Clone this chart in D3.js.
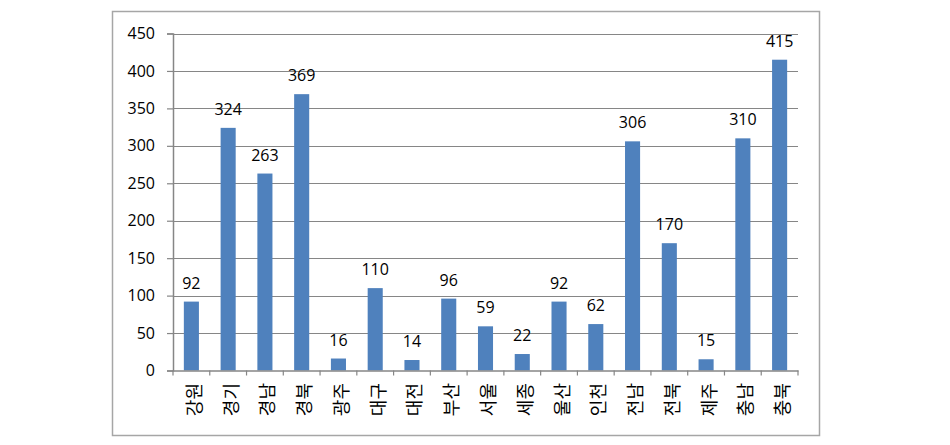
<!DOCTYPE html>
<html><head><meta charset="utf-8">
<script src="https://cdn.jsdelivr.net/npm/d3@7"></script>
<style>body{margin:0;background:#fff}</style>
</head><body>
<svg id="c" width="950" height="445"></svg>
<script>
const categories = ["강원","경기","경남","경북","광주","대구","대전","부산","서울","세종","울산","인천","전남","전북","제주","충남","충북"];
const values = [92,324,263,369,16,110,14,96,59,22,92,62,306,170,15,310,415];
const yTicks = [0,50,100,150,200,250,300,350,400,450];

(function(){
const svg = d3.select("#c");
svg.append("rect").attr("x",112.5).attr("y",11.5).attr("width",707).attr("height",424)
  .attr("fill","#fff").attr("stroke","#a6a6a6").attr("stroke-width",1.5);

const pL=173, pR=798, pT=33.5, pB=370.5;
const x = d3.scaleBand().domain(categories).range([pL,pR]).paddingInner(0.59).paddingOuter(0.295);
const xb = d3.scaleBand().domain(categories).range([pL,pR]);
const y = d3.scaleLinear().domain([0,450]).range([pB,pT]);

// gridlines
svg.append("g").selectAll("line").data(yTicks.filter(d=>d>0)).join("line")
  .attr("x1",pL).attr("x2",pR).attr("y1",d=>Math.round(y(d))+0.5).attr("y2",d=>Math.round(y(d))+0.5)
  .attr("stroke","#868686").attr("stroke-width",1.2);

// bars
svg.append("g").selectAll("rect").data(values).join("rect")
  .attr("x",(d,i)=>x(categories[i])).attr("width",x.bandwidth())
  .attr("y",d=>y(d)).attr("height",d=>pB-y(d)).attr("fill","#4F81BD");

// y axis
const ya = svg.append("g").attr("transform",`translate(${pL},0)`)
  .call(d3.axisLeft(y).tickValues(yTicks).tickSize(6).tickPadding(12));
ya.select(".domain").attr("stroke","#868686").attr("stroke-width",1.5);
ya.selectAll(".tick line").attr("stroke","#868686").attr("stroke-width",1.2);
ya.selectAll("text").attr("font-family","Open Sans, sans-serif").attr("font-size",16).attr("fill","#000");

// x axis
const xa = svg.append("g").attr("transform",`translate(0,${pB})`)
  .call(d3.axisBottom(xb).tickSize(0).tickFormat(""));
xa.select(".domain").attr("stroke","#868686").attr("stroke-width",1.5);
xa.selectAll(".tick").remove();
const bounds = categories.map(c=>xb(c)).concat([pR]);
svg.append("g").selectAll("line").data(bounds).join("line")
  .attr("x1",d=>d).attr("x2",d=>d).attr("y1",pB).attr("y2",pB+5)
  .attr("stroke","#868686").attr("stroke-width",1.2);

// category labels rotated
svg.append("g").selectAll("text").data(categories).join("text")
  .attr("transform",d=>`translate(${xb(d)+xb.bandwidth()/2+9.5},383) rotate(-90)`)
  .attr("text-anchor","end")
  .attr("font-family","Noto Sans CJK KR, sans-serif").attr("font-size",18).attr("fill","#000")
  .text(d=>d);

// value labels
svg.append("g").selectAll("text").data(values).join("text")
  .attr("x",(d,i)=>x(categories[i])+x.bandwidth()/2).attr("y",d=>y(d)-13)
  .attr("text-anchor","middle")
  .attr("font-family","Open Sans, sans-serif").attr("font-size",16).attr("fill","#000")
  .text(d=>d);
})();
</script>
</body></html>
